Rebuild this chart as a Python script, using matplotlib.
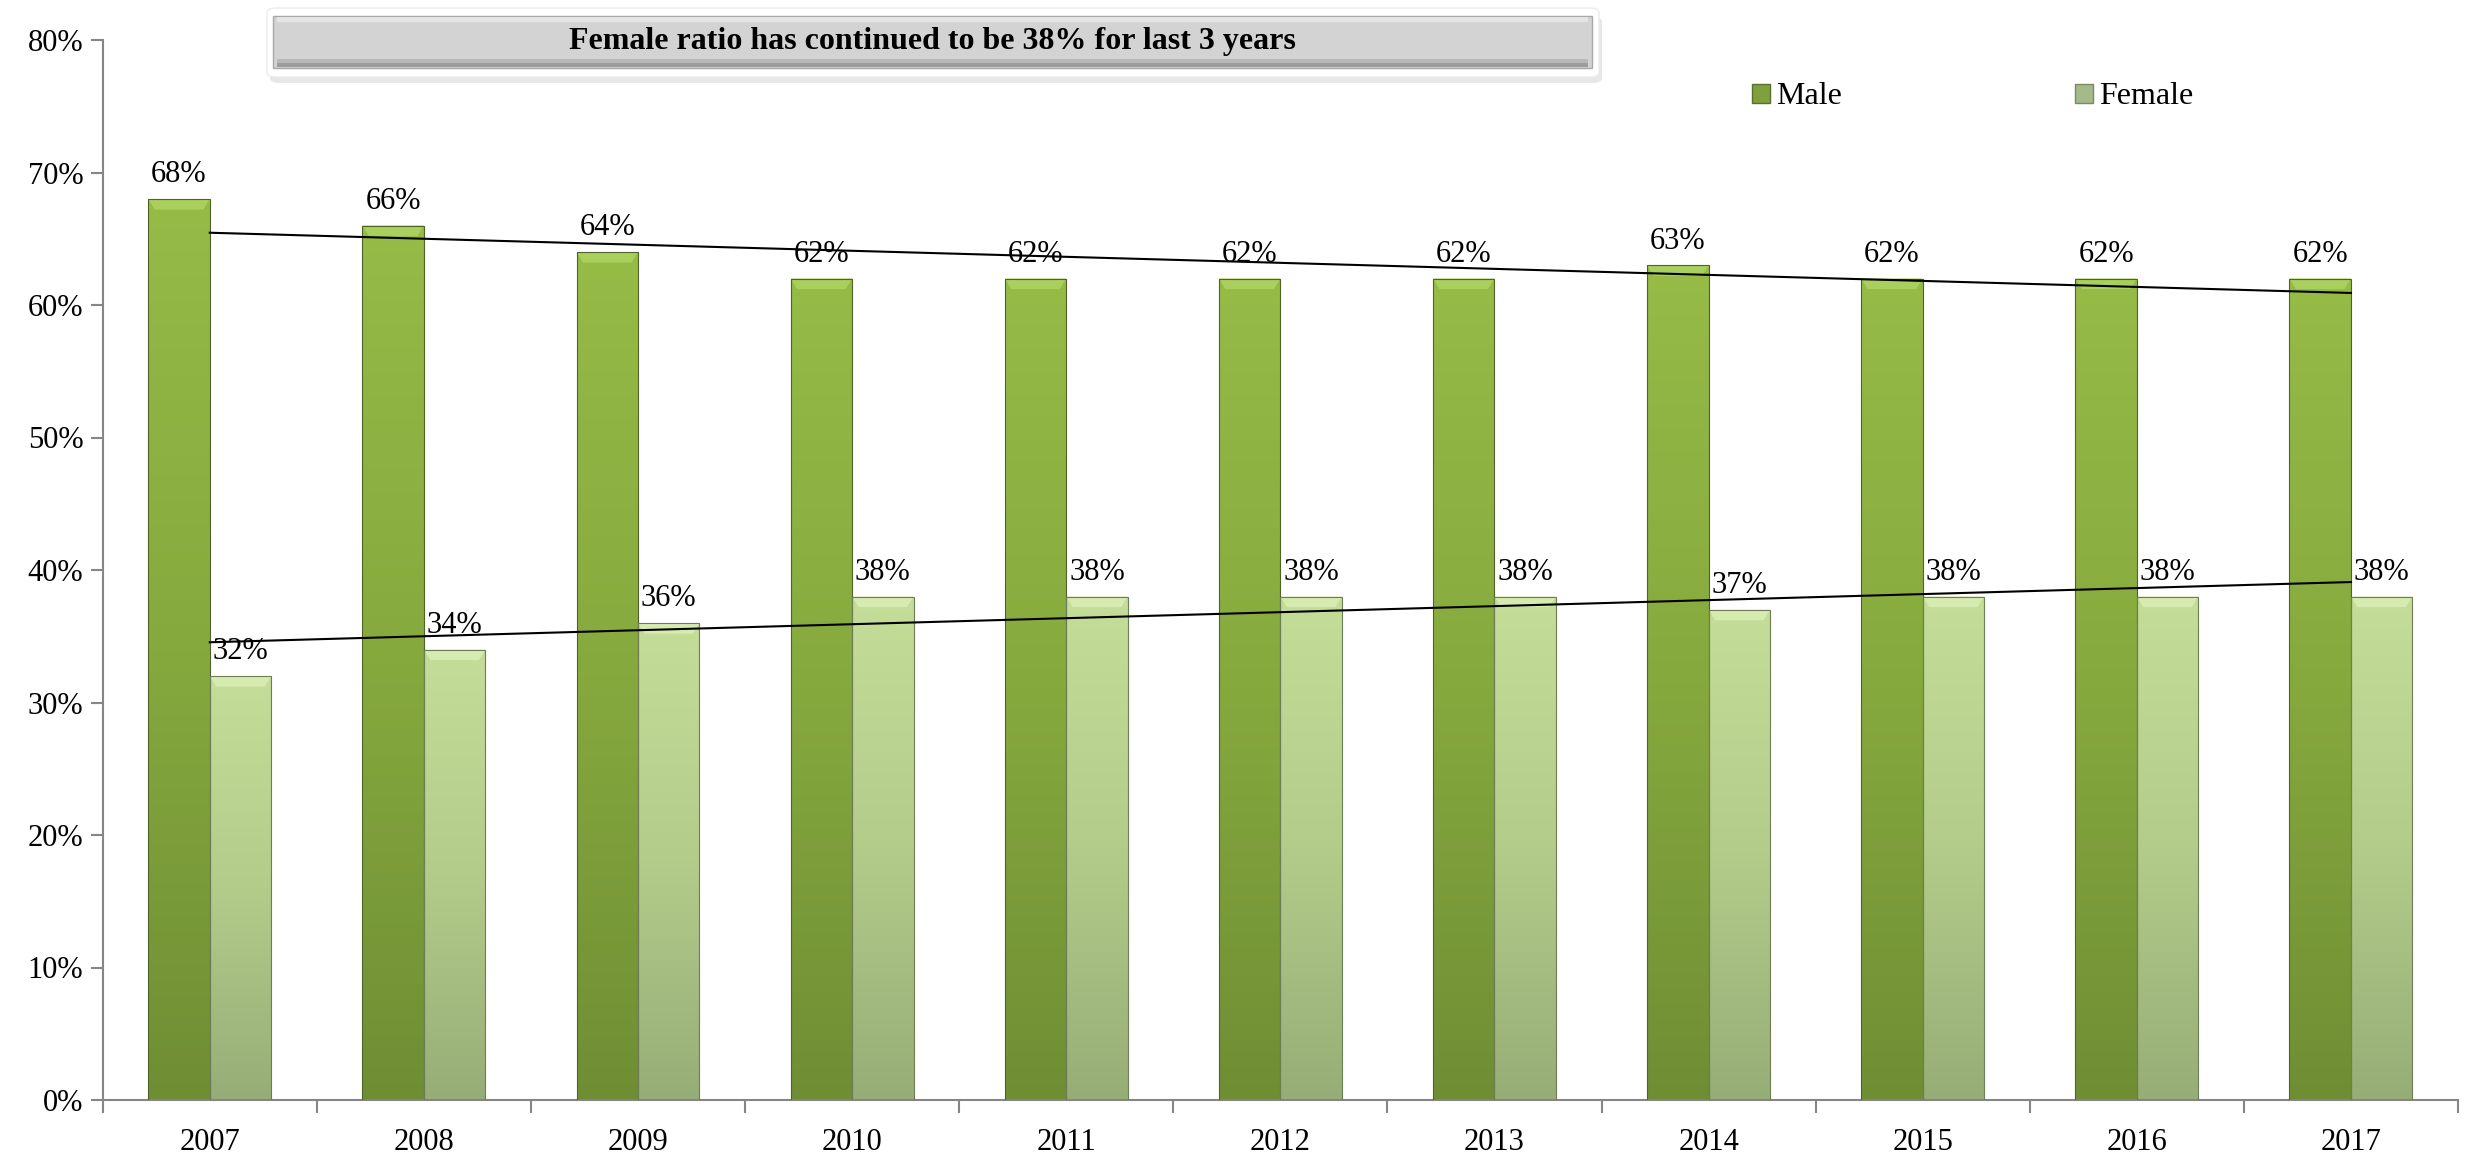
import numpy as np
import matplotlib
matplotlib.use("Agg")
import matplotlib.pyplot as plt
from matplotlib.patches import Rectangle, FancyBboxPatch, Polygon, Patch
from matplotlib.colors import LinearSegmentedColormap

plt.rcParams["font.family"] = ["Liberation Serif", "DejaVu Serif"]

years = ["2007", "2008", "2009", "2010", "2011", "2012",
         "2013", "2014", "2015", "2016", "2017"]
male = [68, 66, 64, 62, 62, 62, 62, 63, 62, 62, 62]
female = [32, 34, 36, 38, 38, 38, 38, 37, 38, 38, 38]
title_text = "Female ratio has continued to be 38% for last 3 years"

W, H = 2475, 1156
FS = 23
fig = plt.figure(figsize=(W / 100, H / 100), dpi=100)
ax = fig.add_axes([102.7 / W, 1 - 1100 / H, (2458 - 102.7) / W, (1100 - 40) / H])

x = np.arange(len(years))
bw = 0.287

male_cmap = LinearSegmentedColormap.from_list(
    "m", [(0, "#6f8e34"), (0.5, "#86a93e"), (1, "#96bb47")])
female_cmap = LinearSegmentedColormap.from_list(
    "f", [(0, "#97ad77"), (0.5, "#b3cc8a"), (1, "#c4dd98")])
grad = np.linspace(0, 1, 256).reshape(-1, 1)


def draw_bars(xs, vals, cmap, edge, bevel):
    bars = ax.bar(xs, vals, width=bw, facecolor="none", edgecolor=edge,
                  linewidth=0.8, zorder=3)
    for b, v in zip(bars, vals):
        x0 = b.get_x()
        im = ax.imshow(grad, cmap=cmap, origin="lower", aspect="auto",
                       extent=[x0, x0 + bw, 0, v], zorder=2)
        im.set_clip_path(b)
        # bevelled top
        d = 0.8
        ax.add_patch(Polygon([[x0, v], [x0 + bw, v], [x0 + bw - 0.03, v - d],
                              [x0 + 0.03, v - d]], closed=True,
                             facecolor=bevel, edgecolor="none", zorder=2.5))
    return bars


draw_bars(x - bw / 2, male, male_cmap, "#4f6228", "#a9cf5c")
draw_bars(x + bw / 2, female, female_cmap, "#6d7d55", "#d6ebb0")

# data labels
for xi, m, f in zip(x, male, female):
    ax.annotate(f"{m}%", (xi - bw / 2, m), xytext=(0, 12), textcoords="offset points",
                ha="center", va="baseline", fontsize=FS - 1, zorder=5)
    ax.annotate(f"{f}%", (xi + bw / 2, f), xytext=(0, 12), textcoords="offset points",
                ha="center", va="baseline", fontsize=FS - 1, zorder=5)

# linear trend lines
for vals in (male, female):
    k, c = np.polyfit(x, vals, 1)
    ax.plot([x[0], x[-1]], [c + k * x[0], c + k * x[-1]], color="black",
            linewidth=1.5, zorder=4)

ax.set_xlim(-0.5, len(years) - 0.5)
ax.set_ylim(0, 80)
ax.set_yticks(np.arange(0, 81, 10))
ax.set_yticklabels([f"{v}%" for v in range(0, 81, 10)])
ax.set_xticks(x)
ax.set_xticklabels(years)
ax.set_xticks(np.arange(-0.5, len(years)), minor=True)
ax.tick_params(axis="x", which="major", length=0, pad=20, labelsize=FS - 1)
ax.tick_params(axis="x", which="minor", length=9, color="#868686", width=1.5)
ax.tick_params(axis="y", length=9, color="#868686", width=1.5, labelsize=FS - 1, pad=5)
for s in ("top", "right"):
    ax.spines[s].set_visible(False)
for s in ("left", "bottom"):
    ax.spines[s].set_color("#868686")
    ax.spines[s].set_linewidth(1.5)

# title box
shadow = FancyBboxPatch((270 / W, 1 - 83 / H), (1332) / W, 66 / H,
                        boxstyle="round,pad=0,rounding_size=0.004",
                        transform=fig.transFigure, facecolor="#d0d0d0",
                        edgecolor="none", alpha=0.5, zorder=1)
outer = FancyBboxPatch((267 / W, 1 - 77 / H), (1599 - 267) / W, 69 / H,
                       boxstyle="round,pad=0,rounding_size=0.004",
                       transform=fig.transFigure, facecolor="white",
                       edgecolor="#ececec", linewidth=1, zorder=2)
inner = Rectangle((273 / W, 1 - 68 / H), (1592 - 273) / W, 52 / H,
                  transform=fig.transFigure, facecolor="#d3d3d3",
                  edgecolor="#a8a8a8", linewidth=1.0, zorder=3)
top_hl = Rectangle((277 / W, 1 - 22 / H), (1588 - 277) / W, 5 / H,
                   transform=fig.transFigure, facecolor="#e4e4e4",
                   edgecolor="none", zorder=4)
bot_sh = Rectangle((277 / W, 1 - 67 / H), (1588 - 277) / W, 4 / H,
                   transform=fig.transFigure, facecolor="#9c9c9c",
                   edgecolor="none", zorder=4)
bot_sh2 = Rectangle((277 / W, 1 - 63 / H), (1588 - 277) / W, 4 / H,
                    transform=fig.transFigure, facecolor="#b8b8b8",
                    edgecolor="none", zorder=4)
for p in (shadow, outer, inner, top_hl, bot_sh, bot_sh2):
    fig.patches.append(p)
fig.text((273 + 1592) / 2 / W, 1 - 42 / H, title_text, ha="center", va="center",
         fontsize=FS, fontweight="bold", zorder=5)

# legend
handles = [Patch(facecolor="#7fa03c", edgecolor="#5a7030", label="Male"),
           Patch(facecolor="#a5b98a", edgecolor="#7a8a62", label="Female")]
fig.legend(handles=handles, loc="center left", ncol=2,
           bbox_to_anchor=(1752 / W, 1 - 97 / H), frameon=False,
           fontsize=FS, handlelength=0.55, handleheight=0.55,
           handletextpad=0.2, columnspacing=7.3, borderaxespad=0, borderpad=0)

fig.savefig("out.png", dpi=100)
